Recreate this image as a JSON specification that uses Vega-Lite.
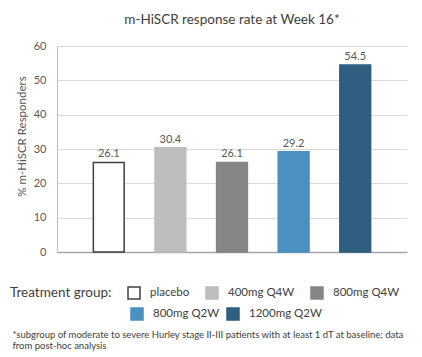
{
  "$schema": "https://vega.github.io/schema/vega-lite/v6.json",
  "autosize": {"type": "none"},
  "width": 350,
  "height": 206,
  "padding": {"left": 57, "top": 46, "right": 15, "bottom": 105},
  "background": "white",
  "config": {
    "view": {"stroke": null},
    "font": "Lato"
  },
  "title": {
    "text": "m-HiSCR response rate at Week 16*",
    "font": "Lato",
    "fontSize": 13.5,
    "fontWeight": "normal",
    "color": "#404040",
    "anchor": "middle",
    "offset": 14
  },
  "data": {
    "values": [
      {"group": "placebo", "rate": 26.1},
      {"group": "400mg Q4W", "rate": 30.4},
      {"group": "800mg Q4W", "rate": 26.1},
      {"group": "800mg Q2W", "rate": 29.2},
      {"group": "1200mg Q2W", "rate": 54.5}
    ]
  },
  "encoding": {
    "x": {
      "field": "group",
      "type": "nominal",
      "sort": ["placebo", "400mg Q4W", "800mg Q4W", "800mg Q2W", "1200mg Q2W"],
      "scale": {"domain": ["placebo", "400mg Q4W", "800mg Q4W", "800mg Q2W", "1200mg Q2W"], "paddingInner": 0.5, "paddingOuter": 0.59},
      "axis": {
        "labels": false,
        "ticks": false,
        "domain": true,
        "domainColor": "#A6A6A6",
        "domainWidth": 1.5,
        "grid": false,
        "title": ["*subgroup of moderate to severe Hurley stage II-III patients with at least 1 dT at baseline; data", "from post-hoc analysis"],
        "titleFont": "Lato",
        "titleFontSize": 9.5,
        "titleFontWeight": "normal",
        "titleColor": "#404040",
        "titleAlign": "left",
        "titleAnchor": "start",
        "titleBaseline": "alphabetic",
        "titleLineHeight": 11,
        "titleX": -45,
        "titleY": 85
      }
    },
    "y": {
      "field": "rate",
      "type": "quantitative",
      "scale": {"domain": [0, 60], "nice": false},
      "axis": {
        "values": [0, 10, 20, 30, 40, 50, 60],
        "title": "% m-HiSCR Responders",
        "titleFont": "Lato",
        "titleFontSize": 11.5,
        "titleFontWeight": "normal",
        "titleColor": "#595959",
        "titleAngle": -90,
        "titleAlign": "center",
        "titleBaseline": "middle",
        "titleX": -35,
        "titleY": 90,
        "labelFont": "Lato",
        "labelFontSize": 11,
        "labelColor": "#595959",
        "labelPadding": 11,
        "ticks": false,
        "domain": true,
        "domainColor": "#BFBFBF",
        "domainWidth": 1,
        "grid": true,
        "gridColor": "#D9D9D9",
        "gridWidth": 1
      }
    }
  },
  "layer": [
    {
      "transform": [{"filter": {"field": "group", "oneOf": ["placebo", "400mg Q4W", "800mg Q4W"]}}],
      "mark": {"type": "bar", "strokeWidth": 1.5},
      "encoding": {
        "fill": {
          "field": "group",
          "type": "nominal",
          "scale": {
            "domain": ["placebo", "400mg Q4W", "800mg Q4W", "800mg Q2W", "1200mg Q2W"],
            "range": ["#FFFFFF", "#BDBDBD", "#868686", "#4A90C0", "#2F5E80"]
          },
          "legend": {
            "values": ["placebo", "400mg Q4W", "800mg Q4W"],
            "orient": "none",
            "legendX": -47,
            "legendY": 240,
            "direction": "horizontal",
            "padding": 0,
            "title": "Treatment group:",
            "titleOrient": "left",
            "titleAnchor": "start",
            "titleFont": "Lato",
            "titleFontSize": 13.5,
            "titleFontWeight": "normal",
            "titleColor": "#404040",
            "titlePadding": 15,
            "titleBaseline": "top",
            "labelFont": "Lato",
            "labelFontSize": 11.5,
            "labelColor": "#404040",
            "labelOffset": 9,
            "symbolType": "square",
            "symbolSize": 144,
            "symbolStrokeWidth": 1.5,
            "columnPadding": 13
          }
        },
        "stroke": {
          "field": "group",
          "type": "nominal",
          "scale": {
            "domain": ["placebo", "400mg Q4W", "800mg Q4W", "800mg Q2W", "1200mg Q2W"],
            "range": ["#404040", "#BDBDBD", "#868686", "#4A90C0", "#2F5E80"]
          },
          "legend": null
        }
      }
    },
    {
      "transform": [{"filter": {"field": "group", "oneOf": ["800mg Q2W", "1200mg Q2W"]}}],
      "mark": {"type": "bar", "strokeWidth": 1.5},
      "encoding": {
        "fill": {
          "field": "group",
          "type": "nominal",
          "legend": {
            "values": ["800mg Q2W", "1200mg Q2W"],
            "orient": "none",
            "legendX": 73,
            "legendY": 261,
            "direction": "horizontal",
            "padding": 0,
            "title": null,
            "labelFont": "Lato",
            "labelFontSize": 11.5,
            "labelColor": "#404040",
            "labelOffset": 9,
            "symbolType": "square",
            "symbolSize": 144,
            "symbolStrokeWidth": 1.5,
            "columnPadding": 4
          }
        },
        "stroke": {
          "field": "group",
          "type": "nominal",
          "legend": null
        }
      }
    },
    {
      "mark": {"type": "text", "baseline": "alphabetic", "dy": -5, "font": "Lato", "fontSize": 11, "color": "#595959"},
      "encoding": {
        "text": {"field": "rate", "type": "quantitative", "format": ".1f"}
      }
    }
  ],
  "resolve": {"legend": {"fill": "independent", "stroke": "independent"}}
}
